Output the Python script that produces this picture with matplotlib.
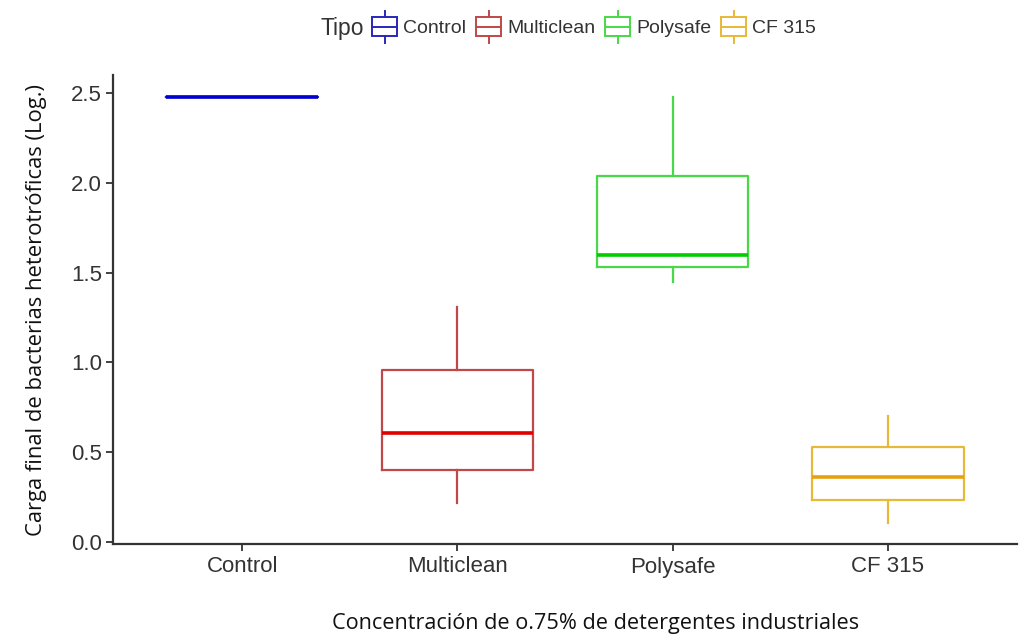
import matplotlib
matplotlib.use("Agg")
import matplotlib.pyplot as plt
from matplotlib.legend_handler import HandlerBase
from matplotlib.lines import Line2D
from matplotlib.patches import Rectangle, Patch

categories = ["Control", "Multiclean", "Polysafe", "CF 315"]
whislo = [2.48, 0.215, 1.448, 0.107]
q1 = [2.48, 0.400, 1.528, 0.233]
med = [2.48, 0.606, 1.600, 0.363]
q3 = [2.48, 0.959, 2.040, 0.529]
whishi = [2.48, 1.307, 2.480, 0.700]
yticks = [0.0, 0.5, 1.0, 1.5, 2.0, 2.5]

box_colors = ["#2828b8", "#c04848", "#48d848", "#e8b838"]
med_colors = ["#0000d0", "#e00000", "#00cc00", "#e8a010"]

plt.rcParams['font.family'] = ['Liberation Sans', 'DejaVu Sans']

fig = plt.figure(figsize=(10.21, 6.41), dpi=100)
W, H = 1021, 641
ax = fig.add_axes([113 / W, (H - 544) / H, (1017 - 113) / W, (544 - 75) / H])

positions = list(range(1, len(categories) + 1))
for i, c in enumerate(categories):
    s = dict(label=c, whislo=whislo[i], q1=q1[i], med=med[i],
             q3=q3[i], whishi=whishi[i], fliers=[])
    ax.bxp([s], positions=[positions[i]], widths=0.705, showcaps=False,
           boxprops=dict(color=box_colors[i], linewidth=1.6),
           whiskerprops=dict(color=box_colors[i], linewidth=1.6),
           medianprops=dict(color=med_colors[i], linewidth=2.6, solid_capstyle='butt'),
           manage_ticks=False)

ax.set_xlim(0.4, 4.6)
ax.set_ylim(-0.012, 2.6)
ax.set_xticks(positions)
ax.set_xticklabels(categories)
ax.set_yticks(yticks)
ax.set_yticklabels([f"{v:.1f}" for v in yticks])
for sp in ["top", "right"]:
    ax.spines[sp].set_visible(False)
for sp in ["left", "bottom"]:
    ax.spines[sp].set_color("#333333")
    ax.spines[sp].set_linewidth(1.6)
ax.tick_params(axis='both', colors="#333333", labelcolor="#333333",
               labelsize=16, length=5, width=1.3, pad=3)
ax.tick_params(axis='x', pad=4)

ax.set_ylabel("Carga final de bacterias heterotróficas (Log.)",
              family=['Open Sans', 'DejaVu Sans'], fontsize=15.8, color="#111111",
              labelpad=17)
fig.text(596 / W, 1 - 623 / H, "Concentración de o.75% de detergentes industriales",
         ha='center', va='center', family=['Open Sans', 'DejaVu Sans'],
         fontsize=15.6, color="#111111")


class BoxHandler(HandlerBase):
    def create_artists(self, legend, orig_handle, xdescent, ydescent, width, height,
                       fontsize, trans):
        col = orig_handle.get_edgecolor()
        x0, y0 = -xdescent, -ydescent
        bh = height * 1.2
        by = y0 + (height - bh) / 2
        r = Rectangle((x0, by), width, bh, fill=False, edgecolor=col, lw=1.4,
                      transform=trans)
        m = Line2D([x0, x0 + width], [y0 + height / 2] * 2, color=col, lw=1.4,
                   transform=trans)
        t1 = Line2D([x0 + width / 2] * 2, [by + bh, by + bh + height * 0.4], color=col,
                    lw=1.4, transform=trans)
        t2 = Line2D([x0 + width / 2] * 2, [by, by - height * 0.4], color=col,
                    lw=1.4, transform=trans)
        return [r, m, t1, t2]


handles = [Patch(edgecolor=box_colors[i], facecolor='none') for i in range(len(categories))]
leg = fig.legend(handles, categories, handler_map={Patch: BoxHandler()},
                 loc='center', bbox_to_anchor=(594 / W, 1 - 28 / H), ncol=4,
                 frameon=False, handlelength=1.3, handleheight=0.9,
                 handletextpad=0.3, columnspacing=0.5, borderpad=0, borderaxespad=0,
                 prop=dict(family=['Liberation Sans Narrow', 'Liberation Sans'], size=14))
for t in leg.get_texts():
    t.set_color("#333333")
fig.text(364 / W, 1 - 28 / H, "Tipo", ha='right', va='center', fontsize=16.5,
         family=['Liberation Sans Narrow', 'Liberation Sans'], color="#333333")

fig.savefig("out.png", dpi=100, facecolor="white")
